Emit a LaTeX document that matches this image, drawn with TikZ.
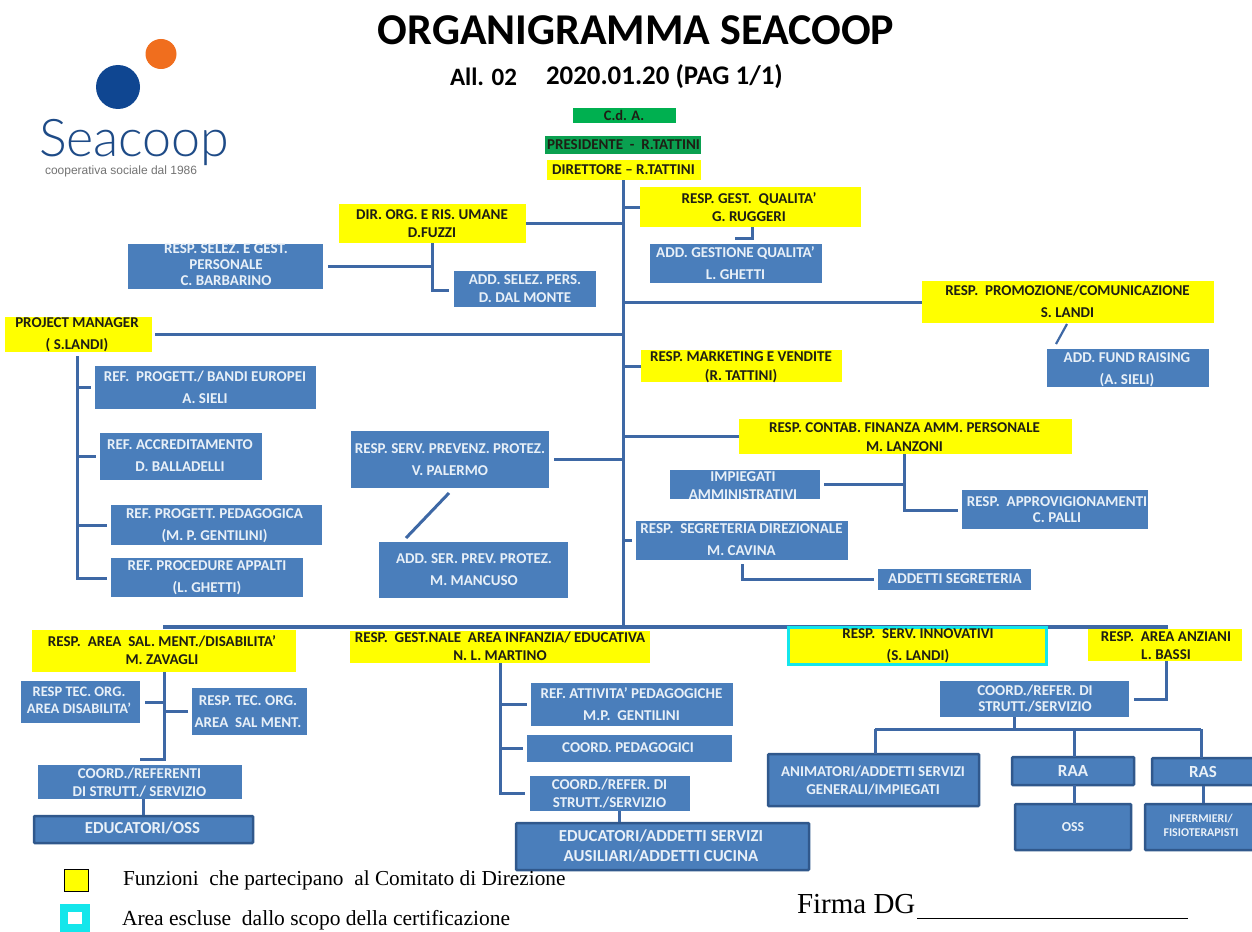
\documentclass[tikz,border=0pt]{standalone}
\usepackage{fontspec}
\setmainfont{Carlito}
\newfontfamily\seriffont{Liberation Serif}
\newfontfamily\logosans{Liberation Sans}
\newfontfamily\logofont{Lato Light}
\definecolor{boxblue}{RGB}{74,126,187}
\definecolor{linkblue}{RGB}{62,104,165}
\definecolor{edgeblue}{RGB}{48,88,140}
\definecolor{ink}{RGB}{30,30,20}
\definecolor{paletxt}{RGB}{232,240,248}
\definecolor{gcda}{RGB}{0,176,80}
\definecolor{gpres}{RGB}{10,160,80}
\definecolor{cyanb}{RGB}{20,230,235}
\definecolor{yel}{RGB}{255,255,0}
\definecolor{seablue}{RGB}{15,70,145}
\definecolor{seaorange}{RGB}{240,110,30}
\definecolor{seatxt}{RGB}{30,75,135}
\newcommand\fs[2]{\fontsize{#1}{#2}\selectfont}
\newcommand\bxt[3]{\fs{#1}{#2}\bfseries\begin{tabular}{@{}c@{}}#3\end{tabular}}
\newcommand\bx[9]{%
  \node[#2,minimum width={(#5-#3)*1pt},minimum height={(#6-#4)*1pt}] (#1) at ({(#3+#5)/2},{(#4+#6)/2}) {};
  \node[#2t,yshift=-1.5pt] (#1t) at (#7,#8) {\bxt#9};
}
\tikzset{
  every node/.style={inner sep=0pt,outer sep=0pt},
  ybox/.style={fill=yel},
  yboxt/.style={text=ink},
  bbox/.style={fill=boxblue},
  bboxt/.style={text=paletxt},
  dbox/.style={fill=boxblue,draw=edgeblue,line width=2.5pt,rounded corners=1pt},
  dboxt/.style={text=paletxt},
  gbox/.style={fill=gcda},
  gboxt/.style={text=ink},
  pbox/.style={fill=gpres},
  pboxt/.style={text=ink},
  cbox/.style={fill=yel,draw=cyanb,line width=3pt},
  cboxt/.style={text=ink},
  link/.style={draw=linkblue,line width=3pt},
  thinlink/.style={draw=linkblue,line width=2.2pt},
}
\begin{document}
\begin{tikzpicture}[x=1pt,y=-1pt]
\useasboundingbox (0,0) rectangle (1252,931);
\fill[white] (0,0) rectangle (1252,931);

% logo
\fill[seaorange] (161,54) ellipse (15.5 and 15);
\fill[seablue] (118,87) ellipse (22 and 22);
\node[anchor=base west,text=seatxt,font=\logofont\fs{52}{56}] (seacoop) at (39,157) {Seacoop};
\node[anchor=base west,text=black!55,font=\logosans\fs{12}{14}] (slogan) at (45,174) {cooperativa sociale dal 1986};

% titles
\node[font=\fs{44}{48}\bfseries] (title) at (636,30) {ORGANIGRAMMA SEACOOP};
\node[font=\fs{25}{28}\bfseries,anchor=west] (all) at (450,77) {All. 02};
\node[font=\fs{26.9}{30}\bfseries,anchor=west] (date) at (546,77) {2020.01.20 (PAG 1/1)};

% anchors of the connectors
\coordinate (tk) at (623,178);
\coordinate (tkend) at (623,628);
\coordinate (busl) at (163,627);
\coordinate (busr) at (1168,627);

\draw[link] (tk) -- (tkend);
\draw[link,line width=4pt] (busl) -- (busr);

% boxes
\bx{cda}{gbox}{573}{108}{676}{123}{624}{116.3}{{14.5}{15}{C.d. A.}}
\bx{pres}{pbox}{545}{136}{701}{154}{623.5}{145.3}{{15}{15}{PRESIDENTE\ \ -\ \ R.TATTINI}}
\bx{dirett}{ybox}{547}{160}{701}{180}{623.5}{170.3}{{15}{15}{DIRETTORE – R.TATTINI}}
\bx{dirorg}{ybox}{339}{204}{526}{243}{432}{223.5}{{15}{18}{DIR. ORG. E RIS. UMANE\\D.FUZZI}}
\bx{rsel}{bbox}{128}{244}{323}{289}{226}{265}{{15}{16}{RESP. SELEZ. E GEST.\\PERSONALE\\C. BARBARINO}}
\bx{addsel}{bbox}{454}{271}{596}{307}{525}{288.5}{{15}{18}{ADD. SELEZ. PERS.\\D. DAL MONTE}}
\bx{qual}{ybox}{640}{187}{861}{227}{749}{207.5}{{15}{18}{RESP. GEST.\ \ QUALITA’\\G. RUGGERI}}
\bx{addqual}{bbox}{650}{244}{822}{283}{735.5}{263}{{15}{22}{ADD. GESTIONE QUALITA’\\L. GHETTI}}
\bx{promo}{ybox}{922}{281}{1214}{323}{1067.5}{301}{{15}{22}{RESP.\ \ PROMOZIONE/COMUNICAZIONE\\S. LANDI}}
\bx{fund}{bbox}{1047}{349}{1209}{387}{1127}{368}{{15}{22}{ADD. FUND RAISING\\(A. SIELI)}}
\bx{mkt}{ybox}{641}{350}{842}{382}{741}{365.5}{{15}{19}{RESP. MARKETING E VENDITE\\(R. TATTINI)}}
\bx{pm}{ybox}{5}{317}{152}{352}{77}{333}{{15}{22}{PROJECT MANAGER\\( S.LANDI)}}
\bx{bandi}{bbox}{95}{366}{316}{409}{205}{387}{{15}{22}{REF.\ \ PROGETT./ BANDI EUROPEI\\A. SIELI}}
\bx{accred}{bbox}{100}{433}{262}{480}{180}{454.5}{{15}{22}{REF. ACCREDITAMENTO\\D. BALLADELLI}}
\bx{pedag}{bbox}{111}{505}{322}{545}{214.5}{524}{{15}{22}{REF. PROGETT.\ PEDAGOGICA\\(M. P. GENTILINI)}}
\bx{appalti}{bbox}{111}{558}{303}{597}{207}{576}{{15}{22}{REF. PROCEDURE APPALTI\\(L. GHETTI)}}
\bx{prev}{bbox}{351}{431}{549}{488}{450}{459}{{15}{22}{RESP. SERV. PREVENZ. PROTEZ.\\V. PALERMO}}
\bx{addser}{bbox}{379}{542}{568}{598}{474}{569}{{15}{22}{ADD. SER. PREV. PROTEZ.\\M. MANCUSO}}
\bx{contab}{ybox}{739}{419}{1072}{454}{904.5}{437}{{15}{19}{RESP. CONTAB. FINANZA AMM. PERSONALE\\M. LANZONI}}
\bx{impieg}{bbox}{670}{470}{820}{499}{743}{485.5}{{15}{18}{IMPIEGATI\\AMMINISTRATIVI}}
\bx{approv}{bbox}{962}{490}{1148}{529}{1057}{510}{{15}{16}{RESP.\ \ APPROVIGIONAMENTI\\C. PALLI}}
\bx{segr}{bbox}{636}{521}{848}{560}{741.5}{539}{{15}{22}{RESP.\ \ SEGRETERIA DIREZIONALE\\M. CAVINA}}
\bx{addsegr}{bbox}{878}{569}{1031}{590}{955}{579.3}{{15}{15}{ADDETTI SEGRETERIA}}
\bx{sal}{ybox}{32}{630}{296}{672}{162}{650.5}{{15}{18}{RESP.\ \ AREA\ \ SAL. MENT./DISABILITA’\\M. ZAVAGLI}}
\bx{infanzia}{ybox}{350}{631}{650}{663}{500}{646.5}{{15}{18}{RESP.\ \ GEST.NALE\ \ AREA INFANZIA/ EDUCATIVA\\N. L. MARTINO}}
\bx{disab}{bbox}{21}{681}{140}{723}{79}{700}{{14.5}{17}{RESP TEC. ORG.\\AREA DISABILITA’}}
\bx{salment}{bbox}{192}{688}{307}{735}{248}{710.5}{{15}{22}{RESP. TEC. ORG.\\AREA\ \ SAL MENT.}}
\bx{coordsal}{bbox}{38}{765}{242}{799}{139.5}{782.5}{{15}{18}{COORD./REFERENTI\\DI STRUTT./ SERVIZIO}}
\bx{edusal}{dbox}{34}{816}{253}{843}{142.5}{828.3}{{16.8}{18}{EDUCATORI/OSS}}
\bx{refatt}{bbox}{531}{683}{733}{726}{631.5}{703.5}{{15}{22}{REF. ATTIVITA’ PEDAGOGICHE\\M.P.\ \ GENTILINI}}
\bx{coordped}{bbox}{527}{735}{732}{762}{628}{748.3}{{15}{15}{COORD. PEDAGOGICI}}
\bx{coordinf}{bbox}{530}{776}{690}{811}{609.5}{793}{{15}{18}{COORD./REFER. DI\\STRUTT./SERVIZIO}}
\bx{eduinf}{dbox}{516}{823}{809}{870}{661}{846}{{16.8}{20}{EDUCATORI/ADDETTI SERVIZI\\AUSILIARI/ADDETTI CUCINA}}
\bx{innov}{cbox}{788.5}{627.5}{1046.5}{664.5}{918}{644}{{15}{22}{RESP.\ \ SERV. INNOVATIVI\\(S. LANDI)}}
\bx{anz}{ybox}{1088}{629}{1242}{661}{1166}{645.5}{{15}{18}{RESP.\ \ AREA ANZIANI\\L. BASSI}}
\bx{coordanz}{bbox}{940}{681}{1129}{717}{1035}{698.5}{{15}{16}{COORD./REFER. DI\\STRUTT./SERVIZIO}}
\bx{anim}{dbox}{768}{754}{979}{806}{873}{780.5}{{15}{18}{ANIMATORI/ADDETTI SERVIZI\\GENERALI/IMPIEGATI}}
\bx{raa}{dbox}{1012}{757}{1134}{785}{1073}{771}{{17}{20}{RAA}}
\bx{ras}{dbox}{1152}{758}{1256}{785}{1203}{772}{{17}{20}{RAS}}
\bx{oss}{dbox}{1015}{804}{1131}{850}{1073}{827}{{13.8}{15}{OSS}}
\bx{inferm}{dbox}{1145}{804}{1256}{850}{1201}{825.5}{{11.9}{14}{INFERMIERI/\\FISIOTERAPISTI}}

% connectors from the trunk
\draw[link] (dirorg.east) -- (dirorg.east -| tk);
\draw[link] (qual.west) -- (qual.west -| tk);
\draw[link] (promo.west) -- (promo.west -| tk);
\draw[link] (mkt.west) -- (mkt.west -| tk);
\draw[link] ([xshift=3pt]pm.east) -- (pm.east -| tk);
\draw[link] ([xshift=5pt]prev.east) -- (prev.east -| tk);
\draw[link] (contab.west) -- (contab.west -| tk);
\draw[link] ([xshift=-4pt]segr.west) -- (segr.west -| tk);

% DIR. ORG.
\coordinate (orgv) at (432,243);
\coordinate (orgf) at (432,290);
\draw[link] (orgv) -- (orgf) -- ([xshift=-5pt]addsel.west |- orgf);
\draw[link] ([xshift=5pt]rsel.east) -- (rsel.east -| orgv);

% quality, promotion
\coordinate (qv) at (752,227);
\coordinate (qh) at (752,238);
\coordinate (qe) at (735,238);
\draw[link] (qv) -- (qh) -- (qe);
\coordinate (pa) at (1067,324);
\coordinate (pb) at (1056,344);
\draw[thinlink] (pa) -- (pb);

% project manager
\coordinate (pv) at (77,356);
\coordinate (pf) at (77,578);
\draw[link] (pv) -- (pf) -- ([xshift=-4pt]appalti.west |- pf);
\draw[link] (pf |- bandi.west) -- ([xshift=-4pt]bandi.west);
\draw[link] (pf |- accred.west) -- ([xshift=-4pt]accred.west);
\draw[link] (pf |- pedag.west) -- ([xshift=-4pt]pedag.west);

% prevention
\coordinate (sa) at (449,493);
\coordinate (sb) at (406,538);
\draw[link] (sa) -- (sb);

% contab
\coordinate (cv) at (904,454);
\coordinate (cf) at (904,510);
\draw[link] (cv) -- (cf) -- ([xshift=-4pt]approv.west |- cf);
\draw[link] ([xshift=4pt]impieg.east) -- (impieg.east -| cv);

% segreteria
\coordinate (sv) at (742,564);
\coordinate (sf) at (742,579);
\draw[link] (sv) -- (sf) -- ([xshift=-4pt]addsegr.west |- sf);

% area sal. ment.
\coordinate (zv) at (164,672);
\coordinate (zf) at (164,759);
\coordinate (ze) at (140,759);
\draw[link] (zv) -- (zf) -- (ze);
\draw[link] ([xshift=5pt]disab.east) -- (disab.east -| zv);
\draw[link] ([xshift=-4pt]salment.west) -- (salment.west -| zv);
\coordinate (zc) at (143,799);
\coordinate (zd) at (143,815);
\draw[link] (zc) -- (zd);

% area infanzia
\coordinate (iv) at (500,663);
\coordinate (if) at (500,793);
\draw[link] (iv) -- (if) -- ([xshift=-5pt]coordinf.west |- if);
\draw[link] (iv |- refatt.west) -- ([xshift=-4pt]refatt.west);
\draw[link] (iv |- coordped.west) -- ([xshift=-4pt]coordped.west);
\coordinate (ic) at (619,811);
\coordinate (id) at (619,822);
\draw[link] (ic) -- (id);

% area anziani
\coordinate (av) at (1166,661);
\coordinate (af) at (1166,699);
\draw[link] (av) -- (af) -- ([xshift=5pt]coordanz.east |- af);
\coordinate (ac) at (1014,717);
\coordinate (ad) at (1014,729);
\coordinate (al) at (875,729);
\coordinate (ar) at (1201,729);
\draw[link] (ac) -- (ad);
\draw[link] (al) -- (ar);
\draw[link] (al) -- (al |- anim.north);
\coordinate (ra) at (1074,729);
\draw[link] (ra) -- (ra |- raa.north);
\draw[link] (ar) -- (ar |- ras.north);
\draw[link] (ra |- raa.south) -- (ra |- oss.north);
\coordinate (rb) at (1203,786);
\coordinate (rc) at (1203,803);
\draw[link] (rb) -- (rc);

% legend
\node[draw=black,fill=yel,line width=1pt,minimum width=24pt,minimum height=22pt] (legy) at (76.5,880) {};
\node[draw=cyanb,fill=white,line width=8pt,minimum width=22pt,minimum height=20pt] (legc) at (75,918) {};
\node[anchor=base west,font=\seriffont\fs{21.3}{24}] (legyt) at (123,885) {Funzioni\ \ che partecipano\ \ al Comitato\ di Direzione};
\node[anchor=base west,font=\seriffont\fs{21.5}{24}] (legct) at (122,925) {Area escluse\ \ dallo\ scopo della\ certificazione};

% signature
\node[anchor=base west,font=\seriffont\fs{29}{32}] (firma) at (797,913) {Firma DG};
\coordinate (fa) at (917,918);
\coordinate (fb) at (1188,918);
\draw[black,line width=1pt] (fa) -- (fb);
\end{tikzpicture}
\end{document}
